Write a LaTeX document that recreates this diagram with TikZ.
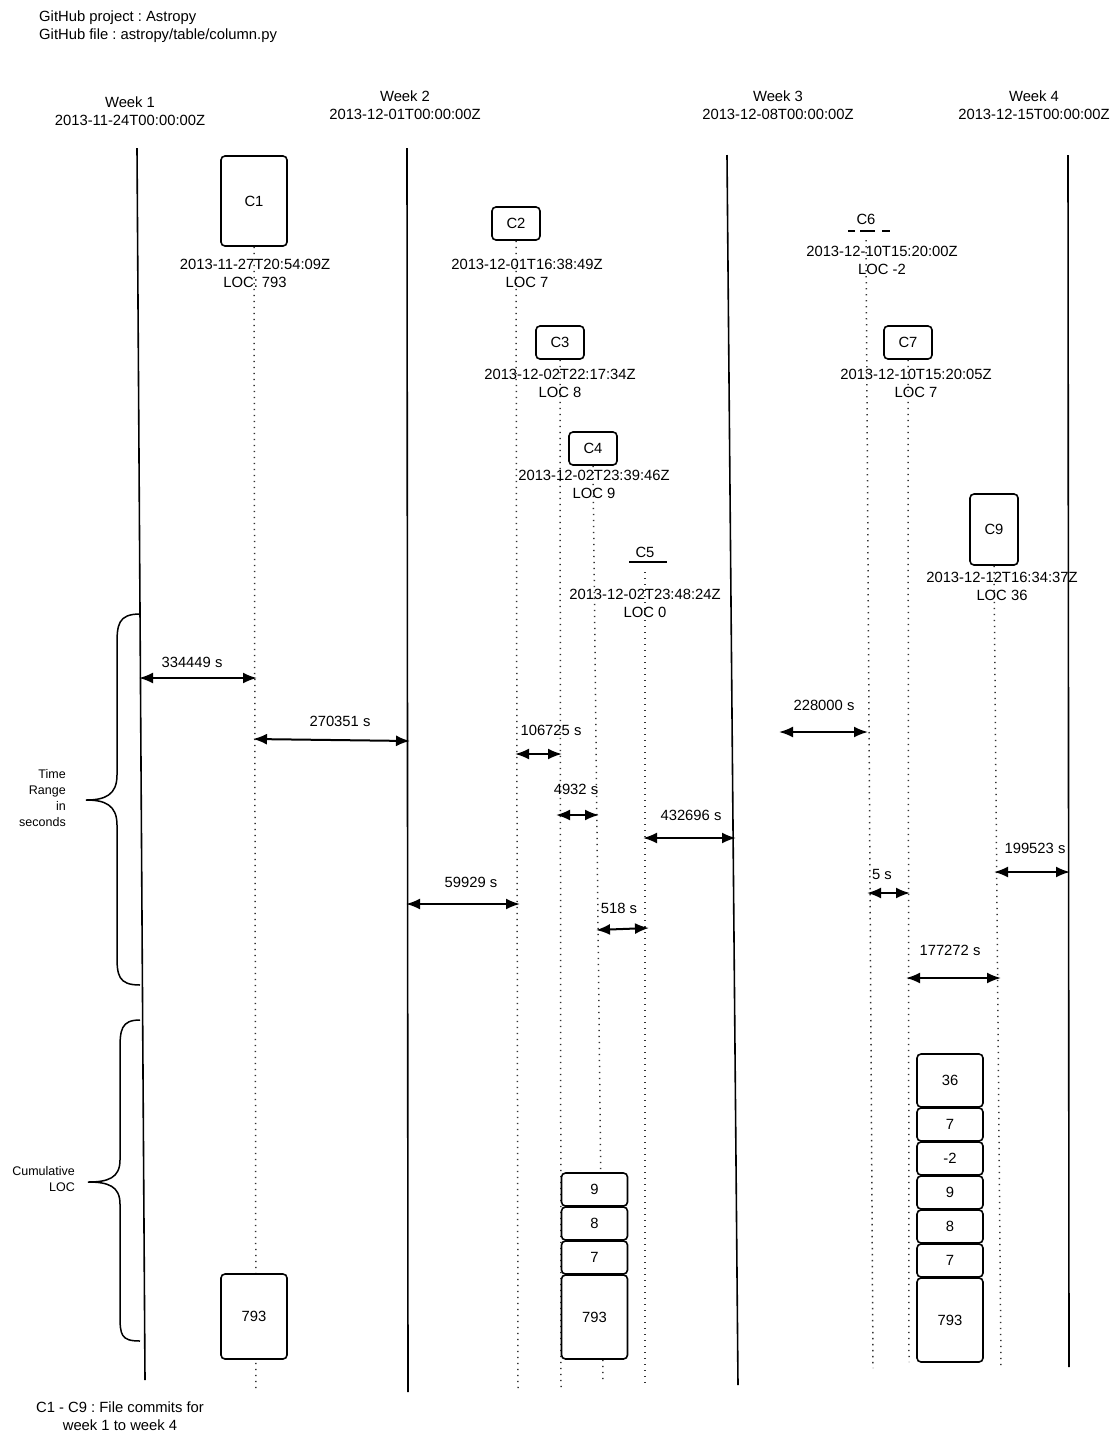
\documentclass[tikz,border=0pt]{standalone}
\usepackage{fontspec}
\setmainfont{Liberation Sans}
\usetikzlibrary{arrows.meta, positioning}
\tikzset{
  weekline/.style={line width=1.6pt, black},
  trail/.style={line width=1.5pt, dash pattern=on 1.4pt off 4.6pt, black!80},
  commitbox/.style={draw, line width=1.6pt, rounded corners=4pt, fill=white,
    minimum width=48pt, minimum height=33pt, inner sep=0pt},
  locbox/.style={draw, line width=1.6pt, rounded corners=4pt, fill=white, outer sep=0pt,
    minimum width=66pt, minimum height=33pt, inner sep=0pt},
  span/.style={{Latex[length=14pt, width=11pt]}-{Latex[length=14pt, width=11pt]}, line width=2pt},
  stamp/.style={align=center, inner sep=0pt},
  sidelabel/.style={align=right, anchor=east, inner sep=0pt, font=\fontsize{12.5}{16}\selectfont}
}

\begin{document}
\frenchspacing
\begin{tikzpicture}[x=1pt, y=-1pt, every node/.style={font=\fontsize{14.8}{18}\selectfont}]
    \useasboundingbox (0,0) rectangle (1114,1433);

    % header
    \node[anchor=west, align=left, inner sep=0pt] (title) at (39,27) {GitHub project : Astropy\\GitHub file : astropy/table/column.py};

    % weeks
    \node[stamp] (wk1) at (130,111) {Week 1\\2013-11-24T00:00:00Z};
    \node[stamp] (wk2) at (405,105) {Week 2\\2013-12-01T00:00:00Z};
    \node[stamp] (wk3) at (778,105) {Week 3\\2013-12-08T00:00:00Z};
    \node[stamp] (wk4) at (1034,105) {Week 4\\2013-12-15T00:00:00Z};

    \coordinate (w1t) at (137,148); \coordinate (w1b) at (145,1380);
    \coordinate (w2t) at (407,148); \coordinate (w2b) at (408,1392);
    \coordinate (w3t) at (727,155); \coordinate (w3b) at (738,1385);
    \coordinate (w4t) at (1068,155); \coordinate (w4b) at (1069,1367);
    \draw[weekline] (w1t) -- (w1b);
    \draw[weekline] (w2t) -- (w2b);
    \draw[weekline] (w3t) -- (w3b);
    \draw[weekline] (w4t) -- (w4b);

    % commits
    \node[commitbox, minimum width=66pt, minimum height=90pt] (c1) at (254,201) {C1};
    \node[commitbox] (c2) at (516,223.5) {C2};
    \node[commitbox] (c3) at (560,342.5) {C3};
    \node[commitbox] (c4) at (593,448.5) {C4};
    \node (c5) at (645,552) {C5};
    \node (c6) at (866,219) {C6};
    \node[commitbox] (c7) at (908,342.5) {C7};
    \node[commitbox, minimum height=71pt] (c9) at (994,529.5) {C9};

    \draw[line width=1.5pt] (629,562) -- (667,562);
    \draw[line width=1.5pt] (848,231) -- (855,231) (860,231) -- (875,231) (882,231) -- (890,231);

    % trails
    \coordinate (c1e) at (256,1390);
    \coordinate (c2e) at (518,1390);
    \coordinate (c3e) at (561,1390);
    \coordinate (c4e) at (603,1383);
    \coordinate (c5e) at (645,1387);
    \coordinate (c6e) at (873,1368);
    \coordinate (c7e) at (909,1362);
    \coordinate (c9e) at (1001,1367);
    \draw[trail] (c1.south) -- (c1e);
    \draw[trail] (c2.south) -- (c2e);
    \draw[trail] (c3.south) -- (c3e);
    \draw[trail] (c4.south) -- (c4e);
    \draw[trail] (645,572) -- (c5e);
    \draw[trail] (866,240) -- (c6e);
    \draw[trail] (c7.south) -- (c7e);
    \draw[trail] (c9.south) -- (c9e);

    \node[stamp] (d1) at (255,273) {2013-11-27T20:54:09Z\\LOC: 793};
    \node[stamp] (d2) at (527,273) {2013-12-01T16:38:49Z\\LOC 7};
    \node[stamp] (d3) at (560,383) {2013-12-02T22:17:34Z\\LOC 8};
    \node[stamp] (d4) at (594,484) {2013-12-02T23:39:46Z\\LOC 9};
    \node[stamp] (d5) at (645,603) {2013-12-02T23:48:24Z\\LOC 0};
    \node[stamp] (d6) at (882,260) {2013-12-10T15:20:00Z\\LOC -2};
    \node[stamp] (d7) at (916,383) {2013-12-10T15:20:05Z\\LOC 7};
    \node[stamp] (d9) at (1002,586) {2013-12-12T16:34:37Z\\LOC 36};

    % time ranges
    \coordinate (r1a) at (139,678); \coordinate (r1b) at (257,678);
    \coordinate (r2a) at (253,739); \coordinate (r2b) at (410,741);
    \coordinate (r3a) at (515,754); \coordinate (r3b) at (562,754);
    \coordinate (r4a) at (556,815); \coordinate (r4b) at (599,815);
    \coordinate (r5a) at (643,838); \coordinate (r5b) at (736,838);
    \coordinate (r6a) at (779,732); \coordinate (r6b) at (868,732);
    \coordinate (r7a) at (994,872); \coordinate (r7b) at (1070,872);
    \coordinate (r8a) at (867,893); \coordinate (r8b) at (910,893);
    \coordinate (r9a) at (406,904); \coordinate (r9b) at (520,904);
    \coordinate (r10a) at (596,930); \coordinate (r10b) at (649,928);
    \coordinate (r11a) at (906,978); \coordinate (r11b) at (1001,978);
    \draw[span] (r1a) -- (r1b);
    \draw[span] (r2a) -- (r2b);
    \draw[span] (r3a) -- (r3b);
    \draw[span] (r4a) -- (r4b);
    \draw[span] (r5a) -- (r5b);
    \draw[span] (r6a) -- (r6b);
    \draw[span] (r7a) -- (r7b);
    \draw[span] (r8a) -- (r8b);
    \draw[span] (r9a) -- (r9b);
    \draw[span] (r10a) -- (r10b);
    \draw[span] (r11a) -- (r11b);

    \node (l1) at (192,662) {334449 s};
    \node (l2) at (340,721) {270351 s};
    \node (l3) at (551,730) {106725 s};
    \node (l4) at (576,789) {4932 s};
    \node (l5) at (691,815) {432696 s};
    \node (l6) at (824,705) {228000 s};
    \node (l7) at (1035,848) {199523 s};
    \node (l8) at (882,874) {5 s};
    \node (l9) at (471,882) {59929 s};
    \node (l10) at (619,908) {518 s};
    \node (l11) at (950,950) {177272 s};

    % braces
    \draw[line width=1.5pt] (140,614) .. controls (118,614) and (117,625) .. (117,645) -- (117,775)
      .. controls (117,795) and (105,800) .. (86,800) .. controls (105,800) and (117,805) .. (117,825)
      -- (117,955) .. controls (117,975) and (118,985) .. (140,985);
    \draw[line width=1.5pt] (140,1020) .. controls (121,1020) and (120,1030) .. (120,1050) -- (120,1160)
      .. controls (120,1178) and (108,1182) .. (88,1182) .. controls (108,1182) and (120,1186) .. (120,1204)
      -- (120,1315) .. controls (120,1335) and (121,1341) .. (140,1341);
    \node[sidelabel] (trlab) at (66,798) {Time\\Range\\in\\seconds};
    \node[sidelabel] (loclab) at (75,1179) {Cumulative\\LOC};

    % cumulative loc
    \node[locbox, minimum height=85pt] (k1) at (254,1316.5) {793};

    \node[locbox] (k2a) at (594.5,1189.5) {9};
    \node[locbox, below=1pt of k2a] (k2b) {8};
    \node[locbox, below=1pt of k2b] (k2c) {7};
    \node[locbox, below=1pt of k2c, minimum height=84pt] (k2d) {793};

    \node[locbox, minimum height=53pt] (k3a) at (950,1080.5) {36};
    \node[locbox, below=1pt of k3a] (k3b) {7};
    \node[locbox, below=1pt of k3b] (k3c) {-2};
    \node[locbox, below=1pt of k3c] (k3d) {9};
    \node[locbox, below=1pt of k3d] (k3e) {8};
    \node[locbox, below=1pt of k3e] (k3f) {7};
    \node[locbox, below=1pt of k3f, minimum height=84pt] (k3g) {793};

    % footnote
    \node[stamp] (note) at (120,1416) {C1 - C9 : File commits for\\week 1 to week 4};
  \end{tikzpicture}
\end{document}
